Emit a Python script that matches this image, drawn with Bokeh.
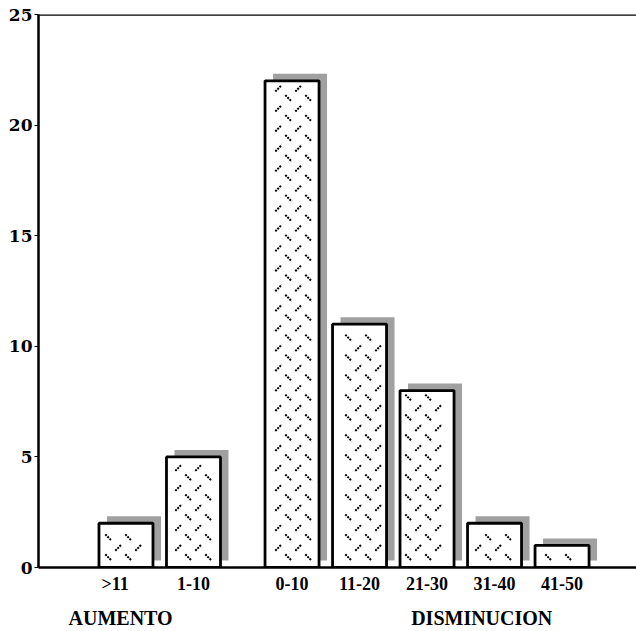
import numpy as np
from bokeh.plotting import figure
from bokeh.models import Range1d, FixedTicker, Span, LinearAxis, ColumnDataSource
from bokeh.embed import file_html
from bokeh.resources import INLINE

# data
categories = [">11", "1-10", "0-10", "11-20", "21-30", "31-40", "41-50"]
groups = ["AUMENTO", "AUMENTO", "DISMINUCION", "DISMINUCION", "DISMINUCION", "DISMINUCION", "DISMINUCION"]
counts = [2, 5, 22, 11, 8, 2, 1]
y_ticks = [0, 5, 10, 15, 20, 25]
group_labels = ["AUMENTO", "DISMINUCION"]

GROUP_GAP = 0.46
BAR_W = 0.8
x_pos = [i + GROUP_GAP * group_labels.index(g) for i, g in enumerate(groups)]
LABEL_NUDGE = {">11": -0.16}
label_pos = [x + LABEL_NUDGE.get(c, 0.0) for x, c in zip(x_pos, categories)]

X_START, X_END, Y_END = -1.296, 7.563, 25
FRAME_W, FRAME_H = 598, 554
SX = FRAME_W / (X_END - X_START)   # px per x unit
SY = FRAME_H / Y_END               # px per y unit

src = ColumnDataSource(dict(x=x_pos, top=counts, cat=categories))
shadow = ColumnDataSource(dict(x=[v + 8 / SX for v in x_pos],
                               top=[c + 7 / SY for c in counts],
                               bottom=[7 / SY] * len(counts)))

# texture: alternating "/" and "\" short dashes on a 20px grid, kept inside each bar
T, H, M = 20.0, 3.2, 3.0
tx0, ty0, tx1, ty1 = [], [], [], []
for xc, c in zip(x_pos, counts):
    left = (xc - BAR_W / 2 - X_START) * SX
    right = (xc + BAR_W / 2 - X_START) * SX
    top = c * SY
    for off, sgn in ((0.0, 1), (0.5, -1)):
        gx = (np.arange(np.floor(left / T) - 1, np.ceil(right / T) + 1) + off) * T
        gy = (np.arange(0, np.ceil(top / T) + 1) + off) * T
        for cx in gx:
            if cx - H < left + M or cx + H > right - M:
                continue
            for cy in gy:
                if cy - H < M or cy + H > top - M:
                    continue
                tx0.append((cx - H) / SX + X_START)
                tx1.append((cx + H) / SX + X_START)
                ty0.append((cy - sgn * H) / SY)
                ty1.append((cy + sgn * H) / SY)

SERIF = "Liberation Serif"
WIDE_SERIF = "DejaVu Serif"

p = figure(width=636, height=631, output_backend="svg", toolbar_location=None,
           x_range=Range1d(X_START, X_END), y_range=Range1d(0, Y_END),
           min_border_left=38, min_border_right=0, min_border_top=14, min_border_bottom=63)
p.outline_line_color = None
p.grid.visible = False
p.background_fill_color = "white"

p.vbar(x="x", top="top", bottom="bottom", width=BAR_W, source=shadow,
       fill_color="#a0a0a0", line_color=None)
p.vbar(x="x", top="top", width=BAR_W, source=src, fill_color="white", line_color=None)
p.segment(x0=tx0, y0=ty0, x1=tx1, y1=ty1, line_color="black", line_width=2,
          line_dash="2 1")
p.vbar(x="x", top="top", width=BAR_W, source=src, fill_color=None,
       line_color="black", line_width=2.8)

p.xaxis.ticker = FixedTicker(ticks=label_pos)
p.xaxis.major_label_overrides = {float(x): c for x, c in zip(label_pos, categories)}
p.xaxis.major_tick_line_color = None
p.xaxis.minor_tick_line_color = None
p.xaxis.axis_line_width = 2.5
p.xaxis.axis_line_color = "black"
p.xaxis.major_label_standoff = 0
p.xaxis.major_label_text_font = SERIF
p.xaxis.major_label_text_font_style = "bold"
p.xaxis.major_label_text_font_size = "18px"
p.xaxis.major_label_text_color = "black"

p.yaxis.ticker = FixedTicker(ticks=y_ticks)
p.yaxis.minor_tick_line_color = None
p.yaxis.major_tick_in = 0
p.yaxis.major_tick_out = 4
p.yaxis.major_tick_line_color = "black"
p.yaxis.axis_line_width = 2.5
p.yaxis.axis_line_color = "black"
p.yaxis.major_label_standoff = 2
p.yaxis.major_label_text_font = WIDE_SERIF
p.yaxis.major_label_text_font_style = "bold"
p.yaxis.major_label_text_font_size = "17px"
p.yaxis.major_label_text_color = "black"

# group labels as a second bottom axis
group_x = [-0.08, 5.27]
gax = LinearAxis(ticker=FixedTicker(ticks=group_x),
                 major_label_overrides={float(x): t for x, t in zip(group_x, group_labels)},
                 axis_line_color=None, major_tick_line_color=None, minor_tick_line_color=None,
                 major_tick_in=0, major_tick_out=0,
                 major_label_standoff=10, major_label_text_font=SERIF,
                 major_label_text_font_style="bold", major_label_text_font_size="20px",
                 major_label_text_color="black")
p.add_layout(gax, "below")

p.add_layout(Span(location=25, dimension="width", line_color="black", line_width=2.5))

open("out.html", "w").write(file_html(p, INLINE))
